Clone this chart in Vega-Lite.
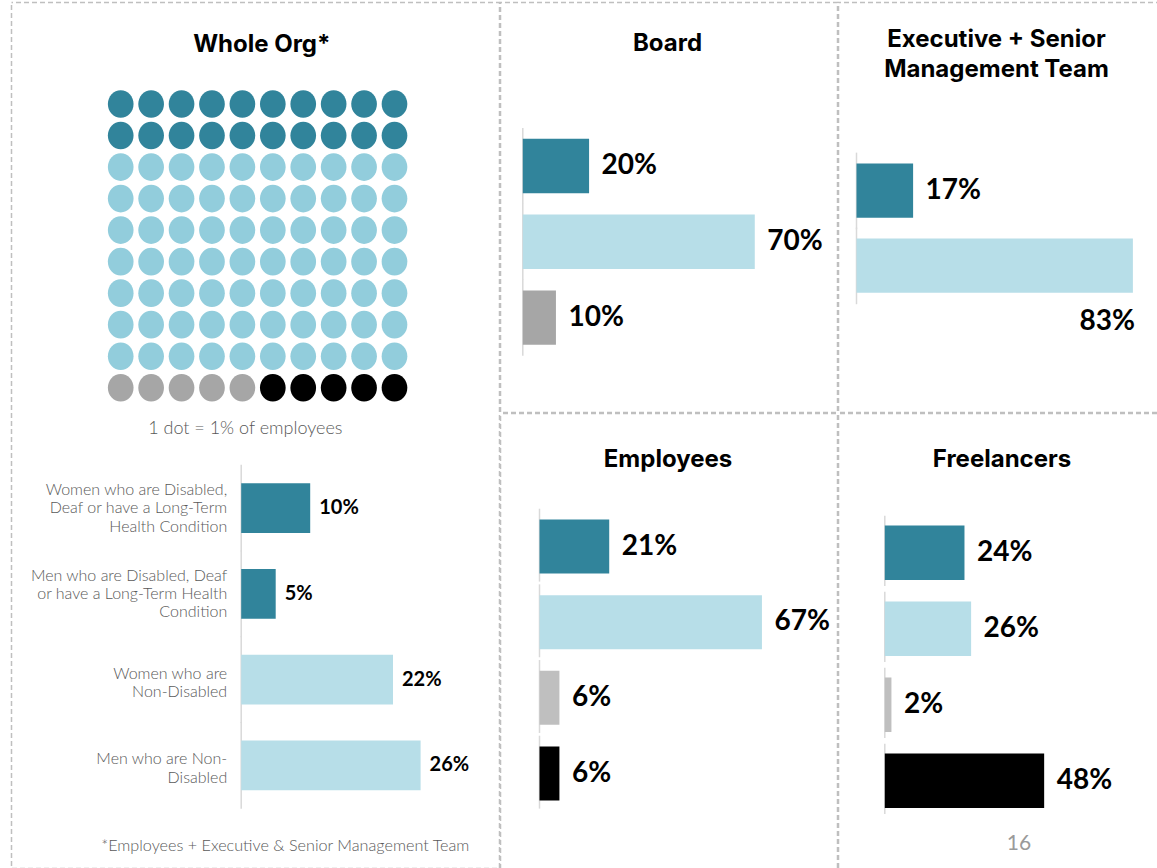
{
  "$schema": "https://vega.github.io/schema/vega-lite/v6.json",
  "padding": {"left": 10.5, "top": 1.5, "right": -2.5, "bottom": -5.5},
  "background": "white",
  "config": {
    "font": "Lato",
    "view": {"stroke": null},
    "title": {"font": "Inter", "fontSize": 24, "fontWeight": 700, "color": "#000000", "anchor": "middle", "frame": "group"}
  },
  "datasets": {
    "dots": [
      {"row":0,"col":0,"group":"Disabled"},{"row":0,"col":1,"group":"Disabled"},{"row":0,"col":2,"group":"Disabled"},{"row":0,"col":3,"group":"Disabled"},{"row":0,"col":4,"group":"Disabled"},{"row":0,"col":5,"group":"Disabled"},{"row":0,"col":6,"group":"Disabled"},{"row":0,"col":7,"group":"Disabled"},{"row":0,"col":8,"group":"Disabled"},{"row":0,"col":9,"group":"Disabled"},
      {"row":1,"col":0,"group":"Disabled"},{"row":1,"col":1,"group":"Disabled"},{"row":1,"col":2,"group":"Disabled"},{"row":1,"col":3,"group":"Disabled"},{"row":1,"col":4,"group":"Disabled"},{"row":1,"col":5,"group":"Disabled"},{"row":1,"col":6,"group":"Disabled"},{"row":1,"col":7,"group":"Disabled"},{"row":1,"col":8,"group":"Disabled"},{"row":1,"col":9,"group":"Disabled"},
      {"row":2,"col":0,"group":"Non-disabled"},{"row":2,"col":1,"group":"Non-disabled"},{"row":2,"col":2,"group":"Non-disabled"},{"row":2,"col":3,"group":"Non-disabled"},{"row":2,"col":4,"group":"Non-disabled"},{"row":2,"col":5,"group":"Non-disabled"},{"row":2,"col":6,"group":"Non-disabled"},{"row":2,"col":7,"group":"Non-disabled"},{"row":2,"col":8,"group":"Non-disabled"},{"row":2,"col":9,"group":"Non-disabled"},
      {"row":3,"col":0,"group":"Non-disabled"},{"row":3,"col":1,"group":"Non-disabled"},{"row":3,"col":2,"group":"Non-disabled"},{"row":3,"col":3,"group":"Non-disabled"},{"row":3,"col":4,"group":"Non-disabled"},{"row":3,"col":5,"group":"Non-disabled"},{"row":3,"col":6,"group":"Non-disabled"},{"row":3,"col":7,"group":"Non-disabled"},{"row":3,"col":8,"group":"Non-disabled"},{"row":3,"col":9,"group":"Non-disabled"},
      {"row":4,"col":0,"group":"Non-disabled"},{"row":4,"col":1,"group":"Non-disabled"},{"row":4,"col":2,"group":"Non-disabled"},{"row":4,"col":3,"group":"Non-disabled"},{"row":4,"col":4,"group":"Non-disabled"},{"row":4,"col":5,"group":"Non-disabled"},{"row":4,"col":6,"group":"Non-disabled"},{"row":4,"col":7,"group":"Non-disabled"},{"row":4,"col":8,"group":"Non-disabled"},{"row":4,"col":9,"group":"Non-disabled"},
      {"row":5,"col":0,"group":"Non-disabled"},{"row":5,"col":1,"group":"Non-disabled"},{"row":5,"col":2,"group":"Non-disabled"},{"row":5,"col":3,"group":"Non-disabled"},{"row":5,"col":4,"group":"Non-disabled"},{"row":5,"col":5,"group":"Non-disabled"},{"row":5,"col":6,"group":"Non-disabled"},{"row":5,"col":7,"group":"Non-disabled"},{"row":5,"col":8,"group":"Non-disabled"},{"row":5,"col":9,"group":"Non-disabled"},
      {"row":6,"col":0,"group":"Non-disabled"},{"row":6,"col":1,"group":"Non-disabled"},{"row":6,"col":2,"group":"Non-disabled"},{"row":6,"col":3,"group":"Non-disabled"},{"row":6,"col":4,"group":"Non-disabled"},{"row":6,"col":5,"group":"Non-disabled"},{"row":6,"col":6,"group":"Non-disabled"},{"row":6,"col":7,"group":"Non-disabled"},{"row":6,"col":8,"group":"Non-disabled"},{"row":6,"col":9,"group":"Non-disabled"},
      {"row":7,"col":0,"group":"Non-disabled"},{"row":7,"col":1,"group":"Non-disabled"},{"row":7,"col":2,"group":"Non-disabled"},{"row":7,"col":3,"group":"Non-disabled"},{"row":7,"col":4,"group":"Non-disabled"},{"row":7,"col":5,"group":"Non-disabled"},{"row":7,"col":6,"group":"Non-disabled"},{"row":7,"col":7,"group":"Non-disabled"},{"row":7,"col":8,"group":"Non-disabled"},{"row":7,"col":9,"group":"Non-disabled"},
      {"row":8,"col":0,"group":"Non-disabled"},{"row":8,"col":1,"group":"Non-disabled"},{"row":8,"col":2,"group":"Non-disabled"},{"row":8,"col":3,"group":"Non-disabled"},{"row":8,"col":4,"group":"Non-disabled"},{"row":8,"col":5,"group":"Non-disabled"},{"row":8,"col":6,"group":"Non-disabled"},{"row":8,"col":7,"group":"Non-disabled"},{"row":8,"col":8,"group":"Non-disabled"},{"row":8,"col":9,"group":"Non-disabled"},
      {"row":9,"col":0,"group":"Prefer not to say"},{"row":9,"col":1,"group":"Prefer not to say"},{"row":9,"col":2,"group":"Prefer not to say"},{"row":9,"col":3,"group":"Prefer not to say"},{"row":9,"col":4,"group":"Prefer not to say"},{"row":9,"col":5,"group":"Not known"},{"row":9,"col":6,"group":"Not known"},{"row":9,"col":7,"group":"Not known"},{"row":9,"col":8,"group":"Not known"},{"row":9,"col":9,"group":"Not known"}
    ],
    "whole": [
      {"category": "Women who are Disabled,\nDeaf or have a Long-Term\nHealth Condition", "group": "Disabled", "share": 0.10},
      {"category": "Men who are Disabled, Deaf\nor have a Long-Term Health\nCondition", "group": "Disabled", "share": 0.05},
      {"category": "Women who are\nNon-Disabled", "group": "Non-disabled", "share": 0.22},
      {"category": "Men who are Non-\nDisabled", "group": "Non-disabled", "share": 0.26}
    ],
    "board": [
      {"category": "Disabled, Deaf or Long-Term Health Condition", "share": 0.20},
      {"category": "Non-Disabled", "share": 0.70},
      {"category": "Prefer not to say", "share": 0.10}
    ],
    "exec": [
      {"category": "Disabled, Deaf or Long-Term Health Condition", "share": 0.17},
      {"category": "Non-Disabled", "share": 0.83}
    ],
    "employees": [
      {"category": "Disabled, Deaf or Long-Term Health Condition", "share": 0.21},
      {"category": "Non-Disabled", "share": 0.67},
      {"category": "Prefer not to say", "share": 0.06},
      {"category": "Not known", "share": 0.06}
    ],
    "freelancers": [
      {"category": "Disabled, Deaf or Long-Term Health Condition", "share": 0.24},
      {"category": "Non-Disabled", "share": 0.26},
      {"category": "Prefer not to say", "share": 0.02},
      {"category": "Not known", "share": 0.48}
    ]
  },
  "spacing": -3,
  "resolve": {"scale": {"color": "independent"}},
  "hconcat": [
    {
      "width": 488,
      "height": 866,
      "view": {"stroke": "#BFBFBF", "strokeWidth": 1.5, "strokeDash": [5, 3], "strokeDashOffset": 3.5},
      "title": {"text": "Whole Org*", "offset": -54.5, "dx": 6.3},
      "layer": [
        {
          "data": {"name": "dots"},
          "mark": {"type": "point", "shape": "M-0.928,0A0.928,1,0,1,0,0.928,0A0.928,1,0,1,0,-0.928,0Z", "filled": true, "size": 767, "opacity": 1, "strokeWidth": 0},
          "encoding": {
            "x": {"field": "col", "type": "quantitative", "scale": {"domain": [-3.59, 12.452], "nice": false, "zero": false},
              "axis": {"orient": "top", "domain": false, "ticks": false, "labels": false, "grid": false, "title": "1 dot = 1% of employees", "titleX": 233.3, "titleY": 426, "titleAlign": "center", "titleBaseline": "middle", "titleFont": "Lato", "titleFontSize": 18, "titleFontWeight": 300, "titleColor": "#595959"}},
            "y": {"field": "row", "type": "quantitative", "scale": {"domain": [-3.219, 24.247], "nice": false, "zero": false, "reverse": true}, "axis": null},
            "color": {"field": "group", "type": "nominal", "scale": {"domain": ["Disabled", "Non-disabled", "Prefer not to say", "Not known"], "range": ["#31849B", "#92CDDC", "#A6A6A6", "#000000"]}, "legend": null}
          }
        },
        {
          "data": {"name": "whole"},
          "encoding": {
            "y": {"field": "category", "type": "nominal", "sort": null,
              "scale": {"domain": ["space 1", "space 2", "space 3", "space 4", "space 5", "Women who are Disabled,\nDeaf or have a Long-Term\nHealth Condition", "Men who are Disabled, Deaf\nor have a Long-Term Health\nCondition", "Women who are\nNon-Disabled", "Men who are Non-\nDisabled"], "paddingInner": 0.4207, "paddingOuter": 0.757, "align": 0.398, "round": false}, "axis": null},
            "x": {"field": "share", "type": "quantitative", "scale": {"domain": [-0.3329, 0.37435], "nice": false, "zero": false},
              "axis": {"orient": "bottom", "domain": false, "ticks": false, "labels": false, "grid": false, "title": "*Employees + Executive & Senior Management Team", "titleX": 273.3, "titleY": -23, "titleAlign": "center", "titleBaseline": "middle", "titleFont": "Lato", "titleFontSize": 16.2, "titleFontWeight": 300, "titleColor": "#595959"}}
          },
          "layer": [
            {"mark": {"type": "rule", "color": "#D9D9D9", "strokeWidth": 1.5},
             "encoding": {"x": {"datum": 0}, "y": {"field": "category", "type": "nominal", "sort": null, "bandPosition": -0.372}, "y2": {"field": "category", "bandPosition": 1.372}}},
            {"mark": {"type": "bar"},
             "encoding": {"x2": {"datum": 0}, "color": {"field": "group", "type": "nominal", "scale": {"domain": ["Disabled", "Non-disabled"], "range": ["#31849B", "#B7DEE8"]}, "legend": null}}},
            {"mark": {"type": "text", "align": "left", "baseline": "middle", "dx": 9, "font": "Lato", "fontWeight": "bold", "fontSize": 20, "color": "#000000"},
             "encoding": {"text": {"field": "share", "type": "quantitative", "format": ".0%"}}},
            {"transform": [{"filter": "length(split(datum.category, '\\n')) === 3"}],
             "mark": {"type": "text", "align": "right", "baseline": "middle", "dx": -14, "dy": -18, "lineBreak": "\n", "lineHeight": 18.3, "font": "Lato", "fontSize": 16, "fontWeight": 300, "color": "#595959"},
             "encoding": {"x": {"datum": 0}, "text": {"field": "category"}}},
            {"transform": [{"filter": "length(split(datum.category, '\\n')) === 2"}],
             "mark": {"type": "text", "align": "right", "baseline": "middle", "dx": -14, "dy": -6, "lineBreak": "\n", "lineHeight": 18.3, "font": "Lato", "fontSize": 16, "fontWeight": 300, "color": "#595959"},
             "encoding": {"x": {"datum": 0}, "text": {"field": "category"}}}
          ]
        }
      ],
      "resolve": {"scale": {"x": "independent", "y": "independent", "color": "independent"}, "axis": {"x": "independent", "y": "independent"}}
    },
    {
      "spacing": -3,
      "resolve": {"scale": {"color": "independent"}},
      "vconcat": [
        {
          "spacing": -3,
          "resolve": {"scale": {"color": "independent"}},
          "hconcat": [
            {
              "width": 337,
              "height": 410,
              "data": {"name": "board"},
              "view": {"stroke": "#BFBFBF", "strokeWidth": 1.5, "strokeDash": [5, 3], "strokeDashOffset": 3.5},
              "title": {"text": "Board", "offset": -53, "dx": -1.5},
              "encoding": {
                "y": {"field": "category", "type": "nominal", "sort": null,
                  "scale": {"domain": ["space above", "Disabled, Deaf or Long-Term Health Condition", "Non-Disabled", "Prefer not to say"], "paddingInner": 0.2823, "paddingOuter": 0.8456, "align": 0.472, "round": false}, "axis": null},
                "x": {"field": "share", "type": "quantitative", "scale": {"domain": [-0.06729, 0.94961], "nice": false, "zero": false}, "axis": null}
              },
              "layer": [
                {"mark": {"type": "rule", "color": "#D9D9D9", "strokeWidth": 1.5},
                 "encoding": {"x": {"datum": 0}, "y": {"field": "category", "type": "nominal", "sort": null, "bandPosition": -0.2}, "y2": {"field": "category", "bandPosition": 1.2}}},
                {"mark": {"type": "bar"},
                 "encoding": {"x2": {"datum": 0}, "color": {"field": "category", "type": "nominal", "scale": {"domain": ["Disabled, Deaf or Long-Term Health Condition", "Non-Disabled", "Prefer not to say"], "range": ["#31849B", "#B7DEE8", "#A6A6A6"]}, "legend": null}}},
                {"mark": {"type": "text", "align": "left", "baseline": "middle", "dx": 12.5, "font": "Lato", "fontWeight": "bold", "fontSize": 28, "color": "#000000"},
                 "encoding": {"text": {"field": "share", "type": "quantitative", "format": ".0%"}}}
              ]
            },
            {
              "width": 321,
              "height": 410,
              "data": {"name": "exec"},
              "view": {"stroke": "#BFBFBF", "strokeWidth": 1.5, "strokeDash": [5, 3], "strokeDashOffset": 2.5},
              "title": {"text": ["Executive + Senior", "Management Team"], "lineHeight": 30, "offset": -79, "dx": -2.5},
              "encoding": {
                "y": {"field": "category", "type": "nominal", "sort": null,
                  "scale": {"domain": ["space above", "Disabled, Deaf or Long-Term Health Condition", "Non-Disabled", "space below"], "paddingInner": 0.276, "paddingOuter": 0.8713, "align": 0.658, "round": false}, "axis": null},
                "x": {"field": "share", "type": "quantitative", "scale": {"domain": [-0.05405, 0.90991], "nice": false, "zero": false}, "axis": null}
              },
              "layer": [
                {"mark": {"type": "rule", "color": "#D9D9D9", "strokeWidth": 1.5},
                 "encoding": {"x": {"datum": 0}, "y": {"field": "category", "type": "nominal", "sort": null, "bandPosition": -0.2}, "y2": {"field": "category", "bandPosition": 1.21}}},
                {"mark": {"type": "bar"},
                 "encoding": {"x2": {"datum": 0}, "color": {"field": "category", "type": "nominal", "scale": {"domain": ["Disabled, Deaf or Long-Term Health Condition", "Non-Disabled"], "range": ["#31849B", "#B7DEE8"]}, "legend": null}}},
                {"transform": [{"filter": "datum.share < 0.8"}],
                 "mark": {"type": "text", "align": "left", "baseline": "middle", "dx": 12.5, "font": "Lato", "fontWeight": "bold", "fontSize": 28, "color": "#000000"},
                 "encoding": {"text": {"field": "share", "type": "quantitative", "format": ".0%"}}},
                {"transform": [{"filter": "datum.share >= 0.8"}],
                 "mark": {"type": "text", "align": "right", "baseline": "middle", "dx": 2, "dy": 56, "font": "Lato", "fontWeight": "bold", "fontSize": 28, "color": "#000000"},
                 "encoding": {"text": {"field": "share", "type": "quantitative", "format": ".0%"}}}
              ]
            }
          ]
        },
        {
          "spacing": -3,
          "resolve": {"scale": {"color": "independent"}},
          "hconcat": [
            {
              "width": 337,
              "height": 456,
              "data": {"name": "employees"},
              "view": {"stroke": "#BFBFBF", "strokeWidth": 1.5, "strokeDash": [5, 3], "strokeDashOffset": 5.5},
              "title": {"text": "Employees", "offset": -58, "dx": -1},
              "encoding": {
                "y": {"field": "category", "type": "nominal", "sort": null,
                  "scale": {"domain": ["space above", "Disabled, Deaf or Long-Term Health Condition", "Non-Disabled", "Prefer not to say", "Not known"], "paddingInner": 0.2864, "paddingOuter": 0.6563, "align": 0.3054, "round": false}, "axis": null},
                "x": {"field": "share", "type": "quantitative", "scale": {"domain": [-0.11747, 0.89759], "nice": false, "zero": false}, "axis": null}
              },
              "layer": [
                {"mark": {"type": "rule", "color": "#D9D9D9", "strokeWidth": 1.5},
                 "encoding": {"x": {"datum": 0}, "y": {"field": "category", "type": "nominal", "sort": null, "bandPosition": -0.2}, "y2": {"field": "category", "bandPosition": 1.15}}},
                {"mark": {"type": "bar"},
                 "encoding": {"x2": {"datum": 0}, "color": {"field": "category", "type": "nominal", "scale": {"domain": ["Disabled, Deaf or Long-Term Health Condition", "Non-Disabled", "Prefer not to say", "Not known"], "range": ["#31849B", "#B7DEE8", "#BFBFBF", "#000000"]}, "legend": null}}},
                {"mark": {"type": "text", "align": "left", "baseline": "middle", "dx": 12.5, "font": "Lato", "fontWeight": "bold", "fontSize": 28, "color": "#000000"},
                 "encoding": {"text": {"field": "share", "type": "quantitative", "format": ".0%"}}}
              ]
            },
            {
              "width": 321,
              "height": 459,
              "data": {"name": "freelancers"},
              "view": {"stroke": "#BFBFBF", "strokeWidth": 1.5, "strokeDash": [5, 3], "strokeDashOffset": 6.5},
              "title": {"text": "Freelancers", "offset": -58, "dx": 3},
              "encoding": {
                "y": {"field": "category", "type": "nominal", "sort": null,
                  "scale": {"domain": ["space above", "Disabled, Deaf or Long-Term Health Condition", "Non-Disabled", "Prefer not to say", "Not known"], "paddingInner": 0.2829, "paddingOuter": 0.6612, "align": 0.358, "round": false}, "axis": null},
                "x": {"field": "share", "type": "quantitative", "scale": {"domain": [-0.13946, 0.82741], "nice": false, "zero": false},
                  "axis": {"orient": "bottom", "domain": false, "ticks": false, "labels": false, "grid": false, "title": "16", "titleX": 180, "titleY": -29, "titleAlign": "center", "titleBaseline": "middle", "titleFont": "Lato", "titleFontSize": 21, "titleFontWeight": "normal", "titleColor": "#9A9A9A"}}
              },
              "layer": [
                {"mark": {"type": "rule", "color": "#D9D9D9", "strokeWidth": 1.5},
                 "encoding": {"x": {"datum": 0}, "y": {"field": "category", "type": "nominal", "sort": null, "bandPosition": -0.18}, "y2": {"field": "category", "bandPosition": 1.11}}},
                {"mark": {"type": "bar"},
                 "encoding": {"x2": {"datum": 0}, "color": {"field": "category", "type": "nominal", "scale": {"domain": ["Disabled, Deaf or Long-Term Health Condition", "Non-Disabled", "Prefer not to say", "Not known"], "range": ["#31849B", "#B7DEE8", "#BFBFBF", "#000000"]}, "legend": null}}},
                {"mark": {"type": "text", "align": "left", "baseline": "middle", "dx": 12.5, "font": "Lato", "fontWeight": "bold", "fontSize": 28, "color": "#000000"},
                 "encoding": {"text": {"field": "share", "type": "quantitative", "format": ".0%"}}}
              ]
            }
          ]
        }
      ]
    }
  ]
}
